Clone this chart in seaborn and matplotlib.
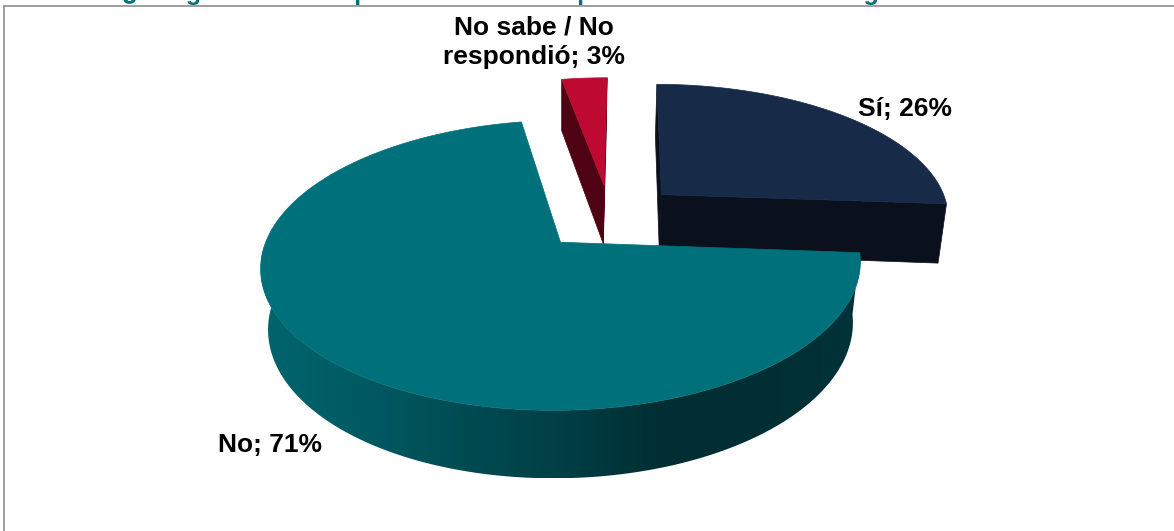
import numpy as np
import matplotlib
matplotlib.use("Agg")
import matplotlib.pyplot as plt
import seaborn as sns
from matplotlib.colors import LinearSegmentedColormap
from matplotlib.patches import Polygon

labels = ["Sí", "No", "No sabe / No\nrespondió"]
values = [26, 71, 3]
title = "¿Cong Señal de la que esté a cono se puede comunicar con algo nuevo a mate"

top_colors = ["#172B49", "#00707A", "#BE0A32"]
wall_colors = ["#0A111C", "#00343A", "#4E0213"]
label_pos = [(905, 109), (270, 445), (534, 42)]
no_wall_stops = ["#00656E", "#005A62", "#004C53", "#003F45", "#002E33", "#002E33", "#003338"]

sns.set_theme(style="white")
plt.rcParams["font.family"] = ["Liberation Sans", "DejaVu Sans"]

fig = plt.figure(figsize=(11.74, 5.31), dpi=100)
ax = fig.add_axes([0, 0, 1, 1])

# pie gives the angles and exploded centres, then they get tilted into 3D by hand
wedges, pie_texts = ax.pie(values, startangle=88, counterclock=False, explode=[0.25, 0.25, 0.24], center=(0.17, 0.18))
slices = [(w.center, w.theta1, w.theta2) for w in wedges]
for w in wedges:
    w.remove()
for t in pie_texts:
    t.remove()

ax.set_xlim(0, 1174)
ax.set_ylim(531, 0)
ax.set_aspect("auto")
ax.axis("off")

top_plane = dict(cx=561, cy=242, rx=296, ry=141.3, k=0.1586)
bottom_plane = dict(cx=561, cy=303, rx=289, ry=148.5, k=0.151)
shear = 0.012


def project(x, y, cx, cy, rx, ry, k):
    w = 1 + k * y
    px = rx * x / w
    return np.column_stack([cx + px, cy - ry * y / w - shear * px])


def outline(center, theta1, theta2, plane):
    t = np.radians(np.linspace(theta1, theta2, 200))
    return project(center[0] + np.cos(t), center[1] + np.sin(t), **plane)


def apex(center, plane):
    return project(np.array([center[0]]), np.array([center[1]]), **plane)


# back to front: red, navy, teal
for i in [2, 0, 1]:
    center, theta1, theta2 = slices[i]
    rim_top = outline(center, theta1, theta2, top_plane)
    rim_bottom = outline(center, theta1, theta2, bottom_plane)
    a_top = apex(center, top_plane)
    a_bottom = apex(center, bottom_plane)

    if i == 1:
        # only the front of the rim shows and it has a left to right shading
        front_end = theta2 if theta2 > 270 else theta2 + 360
        front_top = outline(center, 180, front_end, top_plane)
        front_bottom = outline(center, 180, front_end, bottom_plane)
        wall = np.vstack([front_top, front_bottom[::-1]])
        patch = Polygon(wall, closed=True, facecolor="none", edgecolor="none", zorder=2)
        ax.add_patch(patch)
        cmap = LinearSegmentedColormap.from_list("no_wall", no_wall_stops)
        grad = np.linspace(0, 1, 256).reshape(1, -1)
        im = ax.imshow(grad, cmap=cmap, aspect="auto", zorder=2,
                       extent=[wall[:, 0].min(), wall[:, 0].max(), wall[:, 1].max(), wall[:, 1].min()])
        im.set_clip_path(patch)
        ax.set_xlim(0, 1174)
        ax.set_ylim(531, 0)
    else:
        for rim_end_top, rim_end_bottom in [(rim_top[0], rim_bottom[0]), (rim_top[-1], rim_bottom[-1])]:
            side = np.vstack([a_top, [rim_end_top], [rim_end_bottom], a_bottom])
            ax.add_patch(Polygon(side, closed=True, facecolor=wall_colors[i], edgecolor=wall_colors[i], lw=0.5, zorder=1))

    face = np.vstack([a_top, rim_top])
    ax.add_patch(Polygon(face, closed=True, facecolor=top_colors[i], edgecolor=top_colors[i], lw=0.5, zorder=3 if i == 1 else 1.5))

for name, val, pos in zip(labels, values, label_pos):
    ax.text(pos[0], pos[1], f"{name}; {val}%", ha="center", va="center", fontsize=19,
            fontweight="bold", color="black", linespacing=1.28, zorder=5)

# title is cut off by the top of the image, only the lower edge of the letters is left
ax.text(592, -0.4, title, ha="center", va="baseline", fontsize=18, fontweight="bold", color="#00707A", clip_on=False)

# chart border only on top and left
ax.plot([4, 4], [6, 531], color="#8C8C8C", lw=1.2, zorder=6)
ax.plot([4, 1174], [6, 6], color="#8C8C8C", lw=1.2, zorder=6)

fig.savefig("out.png", dpi=100)
